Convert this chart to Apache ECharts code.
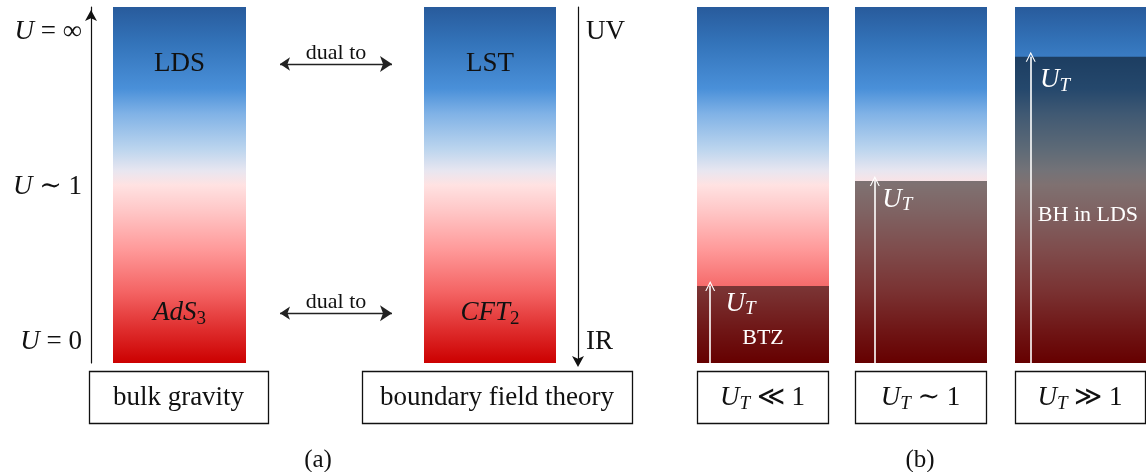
<!DOCTYPE html>
<html><head><meta charset="utf-8">
<script src="https://cdn.jsdelivr.net/npm/echarts@6/dist/echarts.min.js"></script>
<style>html,body{margin:0;padding:0;background:#fff}#c{width:1146px;height:472px}</style>
</head><body><div id="c"></div>
<script>
// ---------------- data ----------------
const topLabelsA = ['LDS', 'LST'];
const bottomLabelsA = ['{i|AdS}{s|3}', '{i|CFT}{s|2}'];
const boxLabelsA = ['bulk gravity', 'boundary field theory'];
const uTickValues = [0.06, 0.495, 0.93];
const uTickLabels = ['{i|U} = 0', '{i|U} ∼ 1', '{i|U} = ∞'];
const scaleTickValues = [0.93, 0.06];
const scaleTickLabels = ['UV', 'IR'];
const dualLevels = [0.14, 0.84];
const dualLabel = 'dual to';
const uT = [0.216, 0.511, 0.86];
const regimeLabels = ['{i|U}{s|T} ≪ 1', '{i|U}{s|T} ∼ 1', '{i|U}{s|T} ≫ 1'];
const phaseLabels = ['BTZ', '', 'BH in LDS'];
const panelLabels = ['(a)', '(b)'];

// ---------------- layout / style ----------------
const SERIF = '"Liberation Serif", "DejaVu Serif", serif';
const TOP = 7, H = 356;
const cols = [
  {left: 113, width: 133}, {left: 424, width: 132},
  {left: 697, width: 132}, {left: 855, width: 132}, {left: 1015, width: 131}
];
const arrowX = [0.10, 0.15, 0.12];
const uTLabelX = [0.33, 0.32, 0.305];
const uTLabelDrop = [0.05, 0.053, 0.066];
const phaseLabelPos = [[0.5, 0.07], null, [0.557, 0.416]];
const grad = {type: 'linear', x: 0, y: 0, x2: 0, y2: 1, colorStops: [
  {offset: 0, color: '#285b9c'},
  {offset: 0.1, color: '#3373b9'},
  {offset: 0.23, color: '#4a90d9'},
  {offset: 0.3, color: '#80b2e6'},
  {offset: 0.4, color: '#bcd5ee'},
  {offset: 0.46, color: '#e8e6f0'},
  {offset: 0.5, color: '#ffe2e2'},
  {offset: 0.58, color: '#ffc4c4'},
  {offset: 0.68, color: '#ff9a9a'},
  {offset: 0.8, color: '#f46464'},
  {offset: 0.9, color: '#e03030'},
  {offset: 1, color: '#cc0000'}
]};
const CHEVRON = 'path://M0,10 L5,0 L10,10 L8.8,10 L5,2.4 L1.2,10 Z';
const FS = 27;
const richMath = (color, size) => ({
  i: {fontStyle: 'italic', fontFamily: SERIF, fontSize: size, color: color, lineHeight: 30},
  s: {fontStyle: 'italic', fontFamily: SERIF, fontSize: Math.round(size * 0.7), color: color, lineHeight: 18, verticalAlign: 'bottom'},
  n: {fontFamily: SERIF, fontSize: size, color: color, lineHeight: 30}
});
const richSubUpright = (color, size) => ({
  i: {fontStyle: 'italic', fontFamily: SERIF, fontSize: size, color: color, lineHeight: 30},
  s: {fontFamily: SERIF, fontSize: Math.round(size * 0.7), color: color, lineHeight: 18, verticalAlign: 'bottom'}
});
const nearestIdx = (arr, v) => { let b = 0; arr.forEach((a, k) => { if (Math.abs(a - v) < Math.abs(arr[b] - v)) b = k; }); return b; };

const grid = cols.map(c => ({left: c.left, width: c.width, top: TOP, height: H}));
grid.push({left: 280, width: 112, top: TOP, height: H});

const xAxis = [];
cols.forEach((c, i) => {
  xAxis.push({type: 'category', gridIndex: i, data: ['c'], show: false});
  xAxis.push({type: 'value', gridIndex: i, min: 0, max: 1, show: false});
});
xAxis.push({type: 'value', gridIndex: 5, min: 0, max: 1, show: false});

const yAxis = cols.map((c, i) => ({type: 'value', gridIndex: i, min: 0, max: 1, show: false}));
yAxis[0] = {
  type: 'value', gridIndex: 0, min: 0, max: 1, position: 'left', offset: 22,
  axisLine: {show: true, onZero: false, lineStyle: {color: '#111', width: 1.2}, symbol: ['none', 'arrow'], symbolSize: [9, 11], symbolOffset: [0, -3]},
  axisTick: {show: false}, splitLine: {show: false},
  axisLabel: {
    show: true, customValues: uTickValues, margin: 9, color: '#111', fontFamily: SERIF, fontSize: FS,
    formatter: v => uTickLabels[nearestIdx(uTickValues, v)],
    rich: {i: {fontStyle: 'italic', fontFamily: SERIF, fontSize: FS, color: '#111'}}
  }
};
yAxis.push({
  type: 'value', gridIndex: 1, min: 0, max: 1, position: 'right', offset: 22,
  axisLine: {show: true, onZero: false, lineStyle: {color: '#111', width: 1.2}, symbol: ['arrow', 'none'], symbolSize: [9, 11], symbolOffset: [-4, 0]},
  axisTick: {show: false}, splitLine: {show: false},
  axisLabel: {
    show: true, customValues: scaleTickValues, margin: 8, color: '#111', fontFamily: SERIF, fontSize: FS,
    formatter: v => scaleTickLabels[nearestIdx(scaleTickValues, v)]
  }
});
yAxis.push({type: 'value', gridIndex: 5, min: 0, max: 1, show: false});

const HIDDEN = {color: 'rgba(0,0,0,0)', opacity: 1};
const series = [];
cols.forEach((c, i) => {
  series.push({type: 'bar', xAxisIndex: 2 * i, yAxisIndex: i, data: [1], barWidth: '100%', barGap: '-100%',
    itemStyle: {color: grad}, silent: true, z: 1});
  if (i >= 2) {
    const k = i - 2;
    series.push({type: 'bar', xAxisIndex: 2 * i, yAxisIndex: i, data: [uT[k]], barWidth: '100%', barGap: '-100%',
      itemStyle: {color: 'rgba(0,0,0,0.5)'}, silent: true, z: 2});
  }
});
// column labels, panel (a)
[0, 1].forEach(i => {
  series.push({type: 'scatter', xAxisIndex: 2 * i + 1, yAxisIndex: i, symbolSize: 2, itemStyle: HIDDEN, silent: true, z: 5,
    data: [
      {value: [0.5, dualLevels[1]], name: topLabelsA[i]},
      {value: [0.5, dualLevels[0]], name: bottomLabelsA[i]}
    ],
    label: {show: true, position: 'inside', formatter: p => p.name, color: '#111', fontFamily: SERIF, fontSize: FS,
      rich: richSubUpright('#111', FS)}
  });
});
// panel (b) annotations
[0, 1, 2].forEach(k => {
  const i = k + 2;
  const d = [{value: [uTLabelX[k], uT[k] - uTLabelDrop[k]], name: '{i|U}{s|T}'}];
  if (phaseLabels[k]) d.push({value: phaseLabelPos[k], name: phaseLabels[k]});
  series.push({type: 'scatter', xAxisIndex: 2 * i + 1, yAxisIndex: i, symbolSize: 2, itemStyle: HIDDEN, silent: true, z: 5,
    data: d,
    label: {show: true, position: 'inside', formatter: p => p.name, color: '#fff', fontFamily: SERIF, fontSize: 22,
      rich: richMath('#fff', FS)}
  });
  series.push({type: 'lines', coordinateSystem: 'cartesian2d', xAxisIndex: 2 * i + 1, yAxisIndex: i, silent: true, z: 6,
    data: [{coords: [[arrowX[k], 0], [arrowX[k], uT[k]]]}],
    symbol: ['none', CHEVRON], symbolSize: [14, 10],
    lineStyle: {color: '#fff', width: 1.6, opacity: 1, curveness: 0}
  });
});
// dual-to arrows
series.push({type: 'lines', coordinateSystem: 'cartesian2d', xAxisIndex: 10, yAxisIndex: 6, silent: true, z: 6,
  data: dualLevels.map(l => ({coords: [[0, l], [1, l]]})),
  symbol: ['arrow', 'arrow'], symbolSize: [10, 12],
  lineStyle: {color: '#222', width: 1.3, opacity: 1, curveness: 0},
  label: {show: true, position: 'insideMiddleTop', distance: 0, formatter: () => dualLabel, color: '#111', fontFamily: SERIF, fontSize: 22}
});

// boxes & panel captions
const BOX_Y = 371, BOX_H = 52;
const boxes = [
  {x: 89, w: 179, text: boxLabelsA[0], rich: false},
  {x: 362, w: 270, text: boxLabelsA[1], rich: false}
];
cols.slice(2).forEach((c, k) => boxes.push({x: c.left, w: c.width - 1, text: regimeLabels[k], rich: true}));
const graphic = [];
boxes.forEach(b => {
  graphic.push({type: 'rect', shape: {x: b.x + 0.5, y: BOX_Y + 0.5, width: b.w, height: BOX_H},
    style: {fill: '#fff', stroke: '#111', lineWidth: 1.3}, silent: true});
  graphic.push({type: 'text', x: b.x + b.w / 2, y: BOX_Y + BOX_H / 2 + 1, silent: true,
    style: {text: b.text, align: 'center', verticalAlign: 'middle', fill: '#111',
      font: FS + 'px ' + SERIF, rich: b.rich ? richMath('#111', FS) : undefined}});
});
graphic.push({type: 'text', x: 318, y: 460, silent: true,
  style: {text: panelLabels[0], align: 'center', verticalAlign: 'middle', fill: '#111', font: '25px ' + SERIF}});
graphic.push({type: 'text', x: 920, y: 460, silent: true,
  style: {text: panelLabels[1], align: 'center', verticalAlign: 'middle', fill: '#111', font: '25px ' + SERIF}});

const chart = echarts.init(document.getElementById('c'), null, {renderer: 'canvas'});
chart.setOption({
  animation: false,
  backgroundColor: '#fff',
  grid, xAxis, yAxis, series, graphic
});
</script>
</body></html>
